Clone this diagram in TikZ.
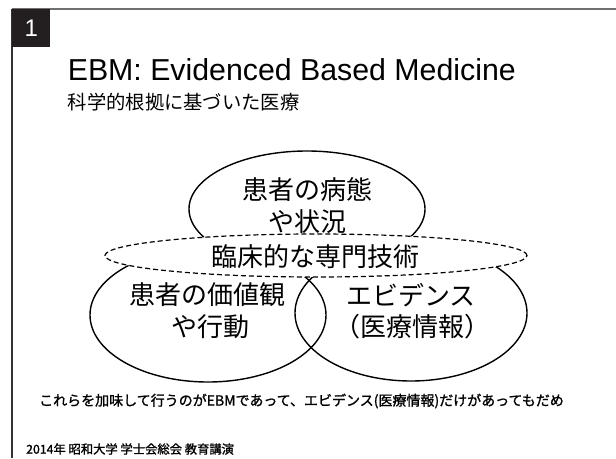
\documentclass[tikz,border=0pt]{standalone}
\usepackage{fontspec}
\setmainfont{Liberation Sans}
\newfontfamily\jpfont{Noto Sans CJK JP}
\newfontfamily\jpheavy{Noto Sans CJK JP}[FakeBold=1.2]
\usetikzlibrary{shapes.geometric}
\definecolor{framegray}{HTML}{707070}
\definecolor{boxdark}{HTML}{231F20}
\tikzset{
  venn/.style={draw=black, line width=1.4pt, ellipse, inner sep=0pt},
  dashring/.style={draw=black, fill=white, line width=1.2pt, ellipse, inner sep=0pt, dash pattern=on 5pt off 3pt},
  bigjp/.style={font=\jpfont\fontsize{26}{30}\selectfont, inner sep=0pt},
}
\begin{document}
\begin{tikzpicture}[x=1pt,y=1pt]
\useasboundingbox[fill=white] (0,0) rectangle (616,-458);
% frame
\draw[framegray, line width=2pt] (12,-8.5) -- (616,-8.5);
\draw[black!80, line width=1.3pt] (12,-8.5) -- (12,-458);
\node[fill=boxdark, minimum width=38pt, minimum height=38pt, inner sep=0pt, anchor=north west] (numbox) at (12,-9) {};
\node[text=white, font=\fontsize{24}{24}\selectfont, inner sep=0pt] (num) at (numbox.center) {1};
% titles
\node[anchor=base west, inner sep=0pt, font=\fontsize{30.3}{34}\selectfont] (title) at (67.6,-80.5) {EBM: Evidenced Based Medicine};
\node[anchor=west, inner sep=0pt, font=\jpfont\fontsize{19.3}{22}\selectfont] (subtitle) at (67.6,-102) {科学的根拠に基づいた医療};
% ellipses
\node[venn, minimum width=236pt, minimum height=116pt] (top) at (307,-209) {};
\node[venn, minimum width=236pt, minimum height=134pt] (left) at (208,-315) {};
\node[venn, minimum width=232pt, minimum height=136pt] (right) at (411,-313) {};
\node[dashring, minimum width=422pt, minimum height=43pt] (skill) at (316,-255.5) {};
% texts
\node[bigjp] (t1) at (307,-190) {患者の病態};
\node[bigjp] (t2) at (307,-222) {や状況};
\node[bigjp] (t3) at (315,-257) {臨床的な専門技術};
\node[bigjp] (t4) at (207,-295) {患者の価値観};
\node[bigjp] (t5) at (210,-327) {や行動};
\node[bigjp] (t6) at (411,-295) {エビデンス};
\node[bigjp] (t7) at (412,-327) {（医療情報）};
\node[anchor=west, inner sep=0pt, font=\jpheavy\fontsize{14}{16}\selectfont] (note) at (39,-401) {これらを加味して行うのがEBMであって、エビデンス(医療情報)だけがあってもだめ};
\node[anchor=west, inner sep=0pt, font=\jpheavy\fontsize{12.3}{14}\selectfont] (footer) at (26,-449) {2014年 昭和大学 学士会総会 教育講演};
\end{tikzpicture}
\end{document}
